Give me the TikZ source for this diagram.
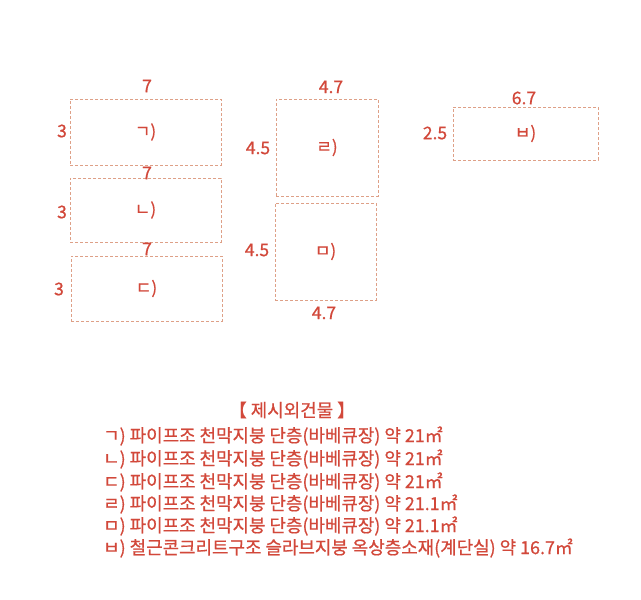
\documentclass[tikz,border=0pt]{standalone}
\usepackage{fontspec}
\setmainfont{Noto Sans CJK KR}
\newfontfamily\spesso{Noto Sans CJK KR}[FakeBold=0.7]
\usepackage{xcolor}
\definecolor{rosso}{RGB}{210,72,58}
\definecolor{tratto}{RGB}{222,160,135}
\tikzset{
    edificio/.style={draw=tratto, densely dashed, line width=0.6pt, text=rosso,
        font=\spesso\fontsize{17}{19}\selectfont, inner sep=0pt},
    misura/.style={text=rosso, font=\spesso\fontsize{17.5}{19}\selectfont, inner sep=1pt},
    riga/.style={text=rosso, font=\spesso\fontsize{17.9}{19}\selectfont, anchor=west, inner sep=0pt}
}
\begin{document}
\begin{tikzpicture}[x=1pt,y=-1pt]
        \useasboundingbox[fill=white] (0,0) rectangle (641,600);
        % Edifici
        \node[edificio, minimum width=151pt, minimum height=66pt] (ga) at (145.5,132) {ㄱ)};
        \node[edificio, minimum width=151pt, minimum height=64pt] (na) at (145.5,210) {ㄴ)};
        \node[edificio, minimum width=151pt, minimum height=65pt] (da) at (146.5,288.5) {ㄷ)};
        \node[edificio, minimum width=102pt, minimum height=97pt] (ra) at (327,147.5) {ㄹ)};
        \node[edificio, minimum width=101pt, minimum height=97pt] (ma) at (325.5,251.5) {ㅁ)};
        \node[edificio, minimum width=145pt, minimum height=53pt] (ba) at (525.5,133.5) {ㅂ)};
        % Misure
        \node[misura] (ga-w) at (147,86) {7};
        \node[misura] (ga-h) at (62,131) {3};
        \node[misura] (na-w) at (147,173) {7};
        \node[misura] (na-h) at (62,212) {3};
        \node[misura] (da-w) at (147,249) {7};
        \node[misura] (da-h) at (59,289) {3};
        \node[misura] (ra-w) at (331,87) {4.7};
        \node[misura] (ra-h) at (258,148) {4.5};
        \node[misura] (ma-h) at (257,250) {4.5};
        \node[misura] (ma-w) at (324,313) {4.7};
        \node[misura] (ba-w) at (524,98) {6.7};
        \node[misura] (ba-h) at (435,133) {2.5};
        % Elenco
        \node[riga, anchor=center] (titolo) at (292,410) {【 제시외건물 】};
        \node[riga] (l1) at (103,436) {ㄱ) 파이프조 천막지붕 단층(바베큐장) 약 21㎡};
        \node[riga] (l2) at (103,459) {ㄴ) 파이프조 천막지붕 단층(바베큐장) 약 21㎡};
        \node[riga] (l3) at (103,482) {ㄷ) 파이프조 천막지붕 단층(바베큐장) 약 21㎡};
        \node[riga] (l4) at (103,504) {ㄹ) 파이프조 천막지붕 단층(바베큐장) 약 21.1㎡};
        \node[riga] (l5) at (103,526) {ㅁ) 파이프조 천막지붕 단층(바베큐장) 약 21.1㎡};
        \node[riga] (l6) at (103,548) {ㅂ) 철근콘크리트구조 슬라브지붕 옥상층소재(계단실) 약 16.7㎡};
    \end{tikzpicture}
\end{document}
